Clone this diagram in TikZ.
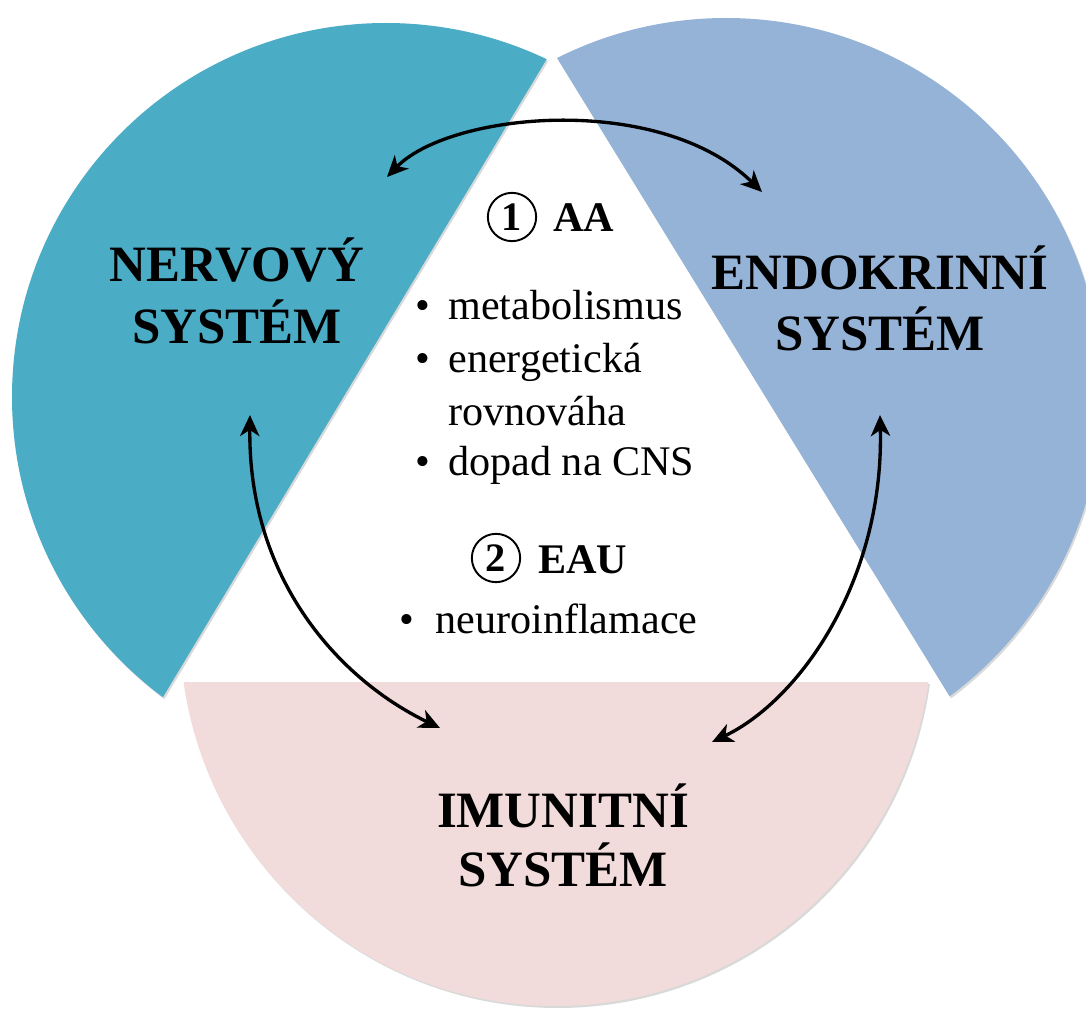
\documentclass[tikz,border=0pt]{standalone}
\usepackage{fontspec}
\setmainfont{Liberation Serif}
\usetikzlibrary{arrows.meta}
\definecolor{nervcol}{HTML}{4BACC6}
\definecolor{endocol}{HTML}{95B3D7}
\definecolor{imucol}{HTML}{F2DCDB}
\begin{document}
\begin{tikzpicture}[x=0.02cm,y=-0.02cm,
  biglabel/.style={font=\fontsize{29}{34}\selectfont\bfseries, anchor=base, inner sep=0},
  bodytext/.style={font=\fontsize{24}{29}\selectfont, anchor=base west, inner sep=0},
  headtext/.style={font=\fontsize{24}{29}\selectfont\bfseries, anchor=base west, inner sep=0},
  bulletmark/.style={font=\fontsize{24}{29}\selectfont, anchor=base, inner sep=0},
  numcircle/.style={circle, draw, line width=1.1pt, minimum size=27.5pt, inner sep=0pt, font=\fontsize{23}{28}\selectfont\bfseries},
  linkarrow/.style={line width=1.9pt, {Stealth[length=12pt,width=11pt,inset=3.5pt]}-{Stealth[length=12pt,width=11pt,inset=3.5pt]}},
  shadowfill/.style={fill=black, opacity=0.15}]

\useasboundingbox (0,0) rectangle (1086,1010);

% soft shadows
\begin{scope}[shift={(1.5,2)}]
  \begin{scope}
    \clip (933,-583) -- (-222,1337) -- (-1500,1337) -- (-1500,-583) -- cycle;
    \fill[shadowfill] (386,397) circle[radius=374];
  \end{scope}
  \begin{scope}
    \clip (164,-581) -- (1343,1336) -- (2500,1336) -- (2500,-581) -- cycle;
    \fill[shadowfill] (726,394) circle[radius=376];
  \end{scope}
  \begin{scope}
    \clip (-100,682) rectangle (1200,1300);
    \fill[shadowfill] (556,630) circle[radius=376];
  \end{scope}
\end{scope}

% segments
\begin{scope}
  \clip (933,-583) -- (-222,1337) -- (-1500,1337) -- (-1500,-583) -- cycle;
  \fill[nervcol] (386,397) circle[radius=374];
\end{scope}
\begin{scope}
  \clip (164,-581) -- (1343,1336) -- (2500,1336) -- (2500,-581) -- cycle;
  \fill[endocol] (726,394) circle[radius=376];
\end{scope}
\begin{scope}
  \clip (-100,682) rectangle (1200,1300);
  \fill[imucol] (556,630) circle[radius=376];
\end{scope}

% labels
\node[biglabel] (nervA) at (237,282) {NERVOVÝ};
\node[biglabel] (nervB) at (237,344) {SYSTÉM};
\node[biglabel] (endoA) at (880,290) {ENDOKRINNÍ};
\node[biglabel] (endoB) at (880,351) {SYSTÉM};
\node[biglabel] (imuA) at (563,827) {IMUNITNÍ};
\node[biglabel] (imuB) at (563,886) {SYSTÉM};

% centre text
\node[numcircle] (n1) at (512,217) {1};
\node[headtext] (aa) at (553,232) {AA};
\node[bulletmark] (b1) at (423,320) {•};
\node[bodytext] (t1) at (448,320) {metabolismus};
\node[bulletmark] (b2) at (423,373) {•};
\node[bodytext] (t2) at (448,373) {energetická};
\node[bodytext] (t3) at (448,425) {rovnováha};
\node[bulletmark] (b3) at (423,475) {•};
\node[bodytext] (t4) at (448,475) {dopad na CNS};
\node[numcircle] (n2) at (496,558) {2};
\node[headtext] (eau) at (538,573) {EAU};
\node[bulletmark] (b4) at (407,633) {•};
\node[bodytext] (t5) at (435,633) {neuroinflamace};

% arrows
\coordinate (topL) at (387,177);
\coordinate (topR) at (762,192);
\draw[linkarrow] (topL) .. controls (450,112) and (660,92) .. (topR);
\coordinate (leftT) at (250,415);
\coordinate (leftB) at (440,728);
\draw[linkarrow] (leftT) .. controls (248,580) and (340,680) .. (leftB);
\coordinate (rightT) at (880,415);
\coordinate (rightB) at (712,742);
\draw[linkarrow] (rightT) .. controls (884,580) and (800,700) .. (rightB);
\end{tikzpicture}
\end{document}
